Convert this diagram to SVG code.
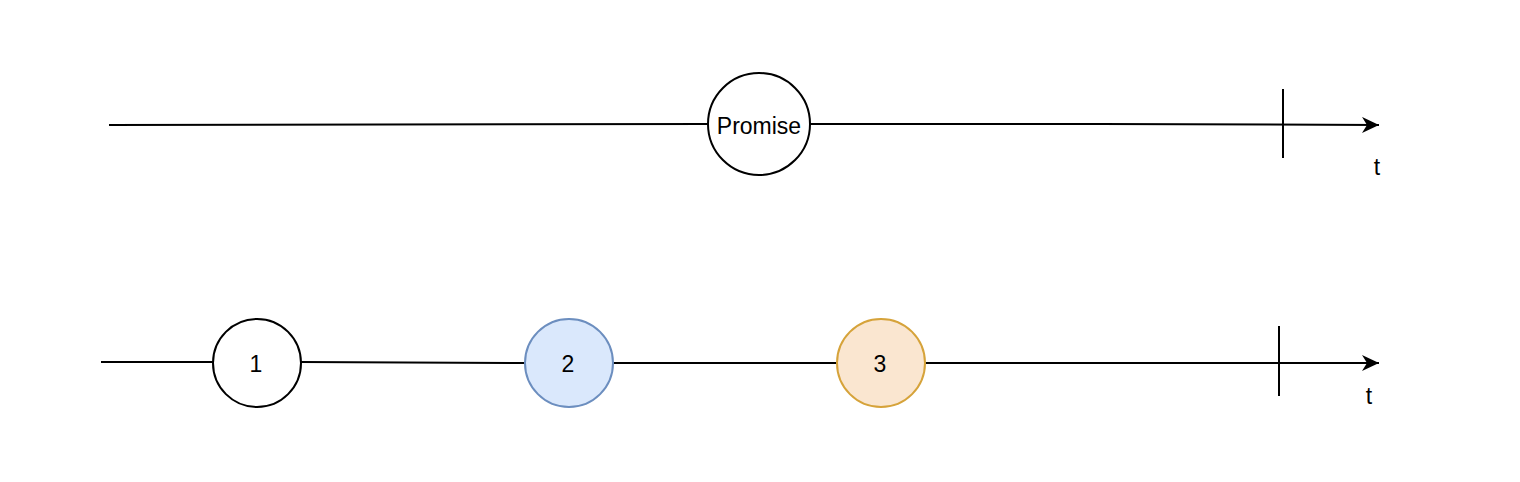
<svg xmlns="http://www.w3.org/2000/svg" width="1520" height="482" viewBox="0 0 1520 482">
<style>
.ln{stroke:#000;stroke-width:2;fill:none}
.lbl{font-family:"Liberation Sans",Arial,sans-serif;font-size:23px;fill:#000;text-anchor:middle;dominant-baseline:central}
</style>
<defs>
<marker id="arr" markerUnits="userSpaceOnUse" markerWidth="18" markerHeight="16" refX="17" refY="8" orient="auto">
<path d="M0,0 L17,8 L0,16 L5,8 Z" fill="#000"/>
</marker>
</defs>
<rect width="1520" height="482" fill="#fff"/>
<g id="connectors">
<path class="ln" d="M109,125 L708,124"/>
<path class="ln" d="M810,124 L1100,124 L1379,125" marker-end="url(#arr)"/>
<path class="ln" d="M1283,89 L1283,158"/>
<path class="ln" d="M101,362 L213,362"/>
<path class="ln" d="M301,362 L525,363"/>
<path class="ln" d="M613,363 L837,363"/>
<path class="ln" d="M925,363 L1379,363" marker-end="url(#arr)"/>
<path class="ln" d="M1279,326 L1279,396"/>
</g>
<g id="promise">
<circle cx="759" cy="124" r="51" fill="#fff" stroke="#000" stroke-width="2"/>
<text class="lbl" x="759" y="126">Promise</text>
</g>
<g id="n1">
<circle cx="257" cy="363" r="44" fill="#fff" stroke="#000" stroke-width="2"/>
<text class="lbl" x="256" y="364">1</text>
</g>
<g id="n2">
<circle cx="569" cy="363" r="44" fill="#dae8fc" stroke="#6c8ebf" stroke-width="2"/>
<text class="lbl" x="568" y="364">2</text>
</g>
<g id="n3">
<circle cx="881" cy="363" r="44" fill="#fae6d0" stroke="#d6a33a" stroke-width="2"/>
<text class="lbl" x="880" y="364">3</text>
</g>
<g id="t1"><text class="lbl" x="1377" y="167">t</text></g>
<g id="t2"><text class="lbl" x="1369" y="396">t</text></g>
</svg>
